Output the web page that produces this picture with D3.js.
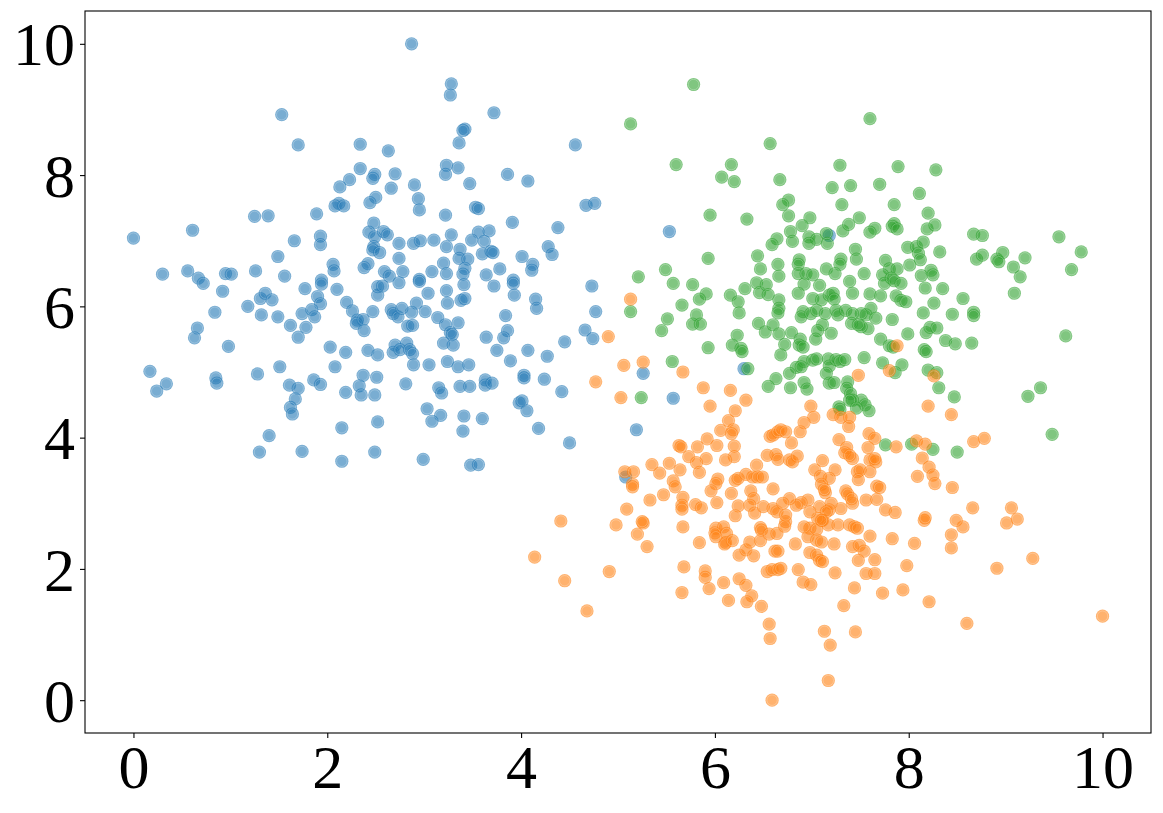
<!DOCTYPE html>
<html>
<head>
<meta charset="utf-8">
<script src="https://cdn.jsdelivr.net/npm/d3@7"></script>
<style>
  html, body { margin: 0; padding: 0; background: #fff; }
  svg { display: block; }
</style>
</head>
<body>
<svg id="chart" width="1163" height="813"></svg>
<script>
const xTicks = [0, 2, 4, 6, 8, 10];
const yTicks = [0, 2, 4, 6, 8, 10];
const seriesNames = ["cluster 0", "cluster 1", "cluster 2"];
const seriesColors = ["#1f77b4", "#2ca02c", "#ff7f0e"];

const clusterBlue = [
[1.53,8.92],[1.70,8.46],[2.34,8.47],[2.34,8.10],[2.49,8.01],[2.47,7.95],[2.23,7.93],[2.13,7.82],[2.50,7.66],[2.44,7.58],
[2.12,7.57],[2.08,7.53],[2.17,7.53],[1.89,7.41],[1.25,7.37],[1.39,7.38],[0.61,7.16],[0.00,7.04],[1.93,7.07],[1.93,6.94],
[1.66,7.00],[1.49,6.76],[2.48,7.27],[2.43,7.13],[2.49,7.06],[2.48,6.91],[2.47,6.86],[2.06,6.64],[2.07,6.54],[2.42,6.65],
[2.38,6.59],[0.30,6.49],[0.56,6.54],[0.95,6.50],[1.01,6.49],[1.26,6.54],[1.56,6.46],[0.67,6.43],[0.72,6.35],[1.94,6.40],
[0.92,6.23],[0.84,5.91],[0.66,5.67],[0.63,5.52],[0.98,5.39],[0.17,5.01],[0.34,4.82],[0.24,4.71],[0.85,4.91],[0.86,4.83],
[1.18,6.00],[1.32,5.87],[1.31,6.12],[1.36,6.20],[1.43,6.10],[1.49,5.84],[1.62,5.71],[1.78,5.68],[1.70,5.53],[1.74,5.89],
[1.77,6.27],[1.94,6.34],[1.90,6.15],[1.93,6.04],[1.84,5.95],[1.87,5.84],[2.10,6.26],[2.20,6.06],[2.26,5.93],[2.31,5.79],
[2.30,5.74],[2.37,5.80],[2.47,5.92],[2.38,5.63],[2.52,6.17],[2.52,6.30],[2.03,5.38],[2.19,5.30],[2.42,5.33],[2.52,5.26],
[1.51,5.08],[1.28,4.97],[2.08,5.08],[1.61,4.80],[1.70,4.75],[1.67,4.59],[1.62,4.46],[1.64,4.36],[1.86,4.88],[1.93,4.81],
[2.37,4.95],[2.51,4.92],[2.33,4.79],[2.35,4.65],[2.19,4.69],[2.49,4.65],[2.15,4.15],[1.40,4.03],[1.30,3.78],[1.74,3.79],
[2.15,3.64],[2.49,3.78],[2.52,4.24],[3.28,9.39],[3.27,9.22],[3.72,8.95],[3.42,8.70],[3.40,8.68],[3.36,8.49],[4.56,8.46],
[2.63,8.37],[3.23,8.15],[3.22,8.01],[3.35,8.11],[2.70,8.02],[3.86,8.01],[4.07,7.91],[3.47,7.87],[2.90,7.85],[2.66,7.80],
[2.94,7.64],[2.95,7.47],[3.53,7.51],[3.56,7.49],[3.22,7.39],[3.91,7.28],[4.67,7.54],[4.76,7.57],[4.38,7.20],[2.58,7.14],
[2.62,7.09],[2.54,6.82],[2.74,6.96],[2.89,6.96],[2.96,7.00],[3.10,7.01],[3.28,7.09],[3.23,6.91],[3.37,6.87],[3.36,6.73],
[3.45,6.72],[3.20,6.66],[3.23,6.50],[3.42,6.58],[3.40,6.49],[3.56,7.13],[3.67,7.15],[3.49,7.01],[3.62,6.99],[3.60,6.80],
[3.69,6.84],[3.71,6.82],[3.78,6.57],[3.64,6.48],[4.01,6.76],[4.12,6.64],[4.28,6.91],[4.32,6.79],[2.74,6.73],[2.78,6.53],
[2.59,6.53],[3.08,6.53],[2.95,6.41],[3.92,6.40],[2.64,6.46],[2.57,6.31],[2.74,6.36],[2.95,6.38],[3.41,6.33],[3.23,6.24],
[3.04,6.20],[3.72,6.31],[3.92,6.35],[3.93,6.17],[4.11,6.55],[4.15,6.11],[4.16,5.97],[4.73,6.31],[4.77,5.92],[4.66,5.64],
[4.74,5.51],[4.45,5.46],[3.84,5.86],[3.86,5.63],[3.82,5.52],[3.64,5.53],[3.38,6.09],[3.42,6.12],[3.24,6.05],[2.92,6.05],
[2.87,5.91],[3.01,5.92],[2.66,5.95],[2.68,5.89],[2.73,5.84],[2.77,5.97],[3.14,5.83],[3.22,5.72],[3.35,5.75],[2.83,5.70],
[2.88,5.71],[3.27,5.60],[3.29,5.57],[3.20,5.44],[3.30,5.41],[2.70,5.41],[2.82,5.44],[2.68,5.30],[2.75,5.34],[2.85,5.34],
[2.88,5.28],[2.89,5.11],[3.05,5.11],[3.24,5.16],[3.35,5.08],[3.46,5.11],[3.75,5.33],[3.89,5.17],[4.07,5.33],[4.27,5.24],
[4.03,4.95],[4.03,4.91],[4.24,4.89],[4.42,4.70],[3.63,4.88],[3.63,4.80],[3.70,4.83],[3.37,4.78],[3.47,4.78],[3.15,4.76],
[3.18,4.68],[2.81,4.82],[3.98,4.53],[4.01,4.56],[4.06,4.41],[3.03,4.44],[3.17,4.34],[3.08,4.25],[3.41,4.33],[3.60,4.29],
[3.40,4.10],[4.18,4.14],[4.50,3.92],[2.99,3.67],[3.48,3.58],[3.56,3.59],[5.26,4.98],[5.57,4.60],[5.19,4.12],[5.08,3.40],
[6.30,5.05],[5.53,7.14],[7.18,7.08],[2.87,10.00]
];

const clusterGreen = [
[5.78,9.38],[5.13,8.78],[6.57,8.48],[5.60,8.16],[6.17,8.16],[6.07,7.97],[6.20,7.90],[6.67,7.93],[7.29,8.15],[7.21,7.81],
[7.40,7.84],[7.31,7.55],[7.49,7.35],[6.76,7.62],[6.70,7.55],[6.76,7.38],[6.98,7.35],[6.90,7.23],[6.78,7.14],[6.80,6.99],
[6.97,7.06],[7.05,7.02],[6.97,6.96],[7.15,7.11],[7.16,6.96],[7.32,7.15],[7.38,7.25],[7.45,6.87],[7.46,6.72],[5.95,7.39],
[6.33,7.33],[6.64,7.03],[6.59,6.94],[6.44,6.77],[5.93,6.73],[5.49,6.56],[6.47,6.57],[6.65,6.64],[6.87,6.71],[6.86,6.64],
[7.15,6.57],[7.30,6.72],[7.29,6.64],[7.60,8.86],[7.89,8.13],[8.28,8.08],[7.70,7.86],[8.11,7.72],[7.85,7.55],[8.20,7.42],
[7.85,7.26],[7.83,7.22],[7.88,7.18],[7.65,7.19],[7.60,7.13],[8.19,7.18],[8.27,7.24],[7.99,6.90],[8.08,6.91],[8.15,6.98],
[8.10,6.81],[8.12,6.71],[8.32,6.83],[7.76,6.70],[8.67,7.10],[8.76,7.08],[9.55,7.06],[9.78,6.83],[8.70,6.72],[8.76,6.78],
[8.91,6.72],[8.97,6.82],[8.93,6.68],[9.08,6.60],[9.20,6.74],[9.68,6.56],[7.80,6.57],[7.88,6.57],[8.01,6.63],[8.23,6.55],
[7.54,6.50],[7.73,6.48],[7.75,6.35],[7.82,6.43],[7.85,6.39],[7.92,6.35],[8.13,6.47],[8.25,6.48],[8.17,6.28],[8.35,6.27],
[8.56,6.12],[9.15,6.45],[9.09,6.20],[7.60,6.19],[7.71,6.16],[7.87,6.16],[7.92,6.09],[7.97,6.07],[8.26,6.05],[8.45,5.88],
[8.67,5.91],[8.67,5.86],[7.61,5.97],[7.56,5.87],[7.51,5.89],[7.66,5.82],[7.58,5.66],[7.51,5.69],[7.83,5.80],[8.15,5.90],
[7.99,5.58],[8.18,5.60],[8.22,5.68],[8.29,5.67],[8.38,5.48],[8.48,5.43],[8.65,5.44],[9.62,5.55],[7.71,5.50],[7.80,5.40],
[7.84,5.38],[8.16,5.34],[8.18,5.31],[7.54,5.22],[7.73,5.14],[7.93,5.11],[7.86,4.99],[8.20,5.03],[8.29,4.99],[8.31,4.76],
[8.47,4.62],[7.51,4.57],[7.55,4.50],[7.59,4.41],[9.23,4.63],[9.36,4.76],[9.48,4.05],[7.76,3.89],[8.03,3.90],[8.25,3.82],
[8.50,3.78],[5.21,6.45],[5.57,6.35],[5.77,6.33],[5.91,6.19],[5.84,6.11],[5.66,6.02],[5.13,5.92],[5.51,5.81],[5.81,5.87],
[5.77,5.73],[5.85,5.73],[5.45,5.63],[6.16,6.17],[6.24,6.07],[6.25,5.90],[6.31,6.27],[6.43,6.36],[6.46,6.21],[6.53,6.33],
[6.55,6.18],[6.66,6.46],[6.66,6.10],[6.66,5.97],[6.65,5.90],[6.86,6.50],[6.94,6.50],[7.01,6.48],[7.24,6.50],[6.92,6.34],
[7.08,6.32],[6.86,6.20],[7.01,6.12],[7.10,6.10],[7.18,6.17],[7.22,6.20],[7.23,6.11],[7.39,6.38],[7.42,6.20],[6.91,5.92],
[6.89,5.84],[6.99,5.89],[7.05,5.94],[7.14,5.89],[7.25,5.94],[7.27,5.87],[7.35,5.94],[7.42,5.89],[7.41,5.74],[7.48,5.72],
[7.11,5.72],[7.06,5.63],[7.04,5.50],[7.20,5.59],[6.45,5.74],[6.52,5.61],[6.60,5.72],[6.66,5.58],[6.79,5.60],[6.88,5.50],
[6.87,5.41],[6.91,5.38],[6.72,5.42],[6.68,5.26],[6.23,5.56],[6.18,5.41],[6.27,5.36],[6.28,5.31],[5.93,5.37],[5.56,5.16],
[5.24,4.61],[6.34,5.05],[6.84,5.07],[6.92,5.16],[6.89,5.08],[7.01,5.18],[7.05,5.20],[7.17,5.20],[7.18,5.09],[7.25,5.19],
[7.29,5.16],[7.34,5.19],[7.15,4.98],[7.18,4.83],[7.23,4.84],[6.77,4.98],[6.63,4.90],[6.55,4.78],[6.78,4.76],[6.92,4.84],
[6.95,4.74],[7.37,4.85],[7.36,4.75],[7.40,4.67],[7.42,4.57],[7.39,4.57],[7.28,4.47],[7.46,4.45],[7.29,4.43]
];

const clusterOrange = [
[4.90,5.54],[5.06,5.10],[5.26,5.15],[4.77,4.85],[5.03,4.61],[5.13,6.11],[5.67,5.00],[5.88,4.76],[6.16,4.72],[5.95,4.48],
[6.32,4.57],[6.21,4.41],[6.14,4.26],[6.06,4.11],[6.19,4.12],[6.17,4.06],[5.92,3.98],[6.02,3.88],[6.20,3.87],[6.20,3.71],
[6.11,3.66],[5.63,3.88],[5.65,3.86],[5.82,3.86],[5.73,3.71],[5.91,3.68],[5.81,3.62],[5.35,3.59],[5.53,3.61],[5.64,3.51],
[5.43,3.46],[5.84,3.47],[5.07,3.48],[5.16,3.48],[5.15,3.29],[5.15,3.25],[5.57,3.34],[5.59,3.25],[6.03,3.37],[6.01,3.30],
[6.21,3.35],[6.24,3.38],[6.32,3.44],[6.43,3.58],[6.39,3.40],[6.44,3.40],[6.49,3.40],[6.54,3.73],[6.63,3.74],[6.57,4.02],
[6.60,4.04],[6.65,4.09],[5.96,3.19],[6.17,3.15],[6.37,3.19],[6.40,3.07],[6.60,3.22],[5.47,3.13],[5.33,3.05],[5.67,3.09],
[5.66,2.97],[5.66,2.91],[5.80,2.98],[5.86,2.93],[6.02,3.01],[6.24,2.96],[6.36,2.97],[6.41,2.85],[6.50,2.95],[6.60,2.92],
[6.64,2.87],[6.21,2.81],[5.09,2.91],[4.41,2.73],[4.98,2.67],[5.26,2.70],[5.25,2.72],[5.67,2.64],[6.01,2.62],[6.09,2.64],
[6.47,2.63],[5.20,2.53],[5.30,2.34],[4.14,2.18],[4.45,1.82],[4.91,1.96],[4.68,1.36],[5.84,2.40],[5.68,2.03],[5.66,1.64],
[5.90,1.97],[5.90,1.87],[5.94,1.70],[6.00,2.55],[6.12,2.54],[6.11,2.40],[6.10,2.38],[6.18,2.43],[6.01,2.49],[6.09,1.79],
[6.14,1.52],[6.25,2.21],[6.32,2.29],[6.36,2.41],[6.40,2.20],[6.48,2.59],[6.47,2.43],[6.56,2.53],[6.64,2.54],[6.62,2.27],
[6.65,2.27],[6.25,1.85],[6.32,1.75],[6.38,1.59],[6.33,1.50],[6.48,1.43],[6.54,1.96],[6.59,1.99],[6.65,1.99],[6.56,1.16],
[6.57,0.94],[6.59,0.00],[6.73,2.72],[6.72,2.65],[6.98,2.62],[7.05,2.60],[7.11,2.74],[7.17,2.67],[7.27,2.67],[7.39,2.67],
[7.44,2.64],[7.47,2.62],[6.96,2.49],[7.05,2.44],[7.10,2.41],[6.83,2.38],[7.23,2.38],[6.98,2.25],[7.05,2.21],[7.08,2.13],
[7.11,2.11],[7.42,2.34],[7.49,2.36],[7.54,2.27],[7.48,2.13],[7.60,2.50],[7.83,2.46],[8.06,2.39],[7.65,2.14],[6.68,2.01],
[6.86,1.99],[7.24,1.94],[7.56,1.93],[7.65,1.93],[7.98,2.05],[6.91,1.80],[6.99,1.76],[7.44,1.71],[7.73,1.63],[7.94,1.68],
[7.33,1.44],[8.21,1.50],[7.13,1.05],[7.45,1.04],[7.19,0.84],[7.17,0.30],[8.60,1.17],[10.00,1.28],[8.91,2.01],[9.28,2.16],
[8.44,2.52],[8.44,2.32],[8.56,2.64],[8.16,2.74],[8.49,2.74],[9.01,2.70],[9.12,2.76],[6.99,4.48],[7.02,4.31],[6.92,4.23],
[6.88,4.09],[6.68,4.12],[6.79,3.92],[7.22,4.35],[7.30,4.31],[7.39,4.31],[7.38,4.17],[7.28,3.97],[7.36,3.85],[7.34,3.77],
[7.42,3.68],[7.39,3.73],[7.59,4.06],[7.65,3.99],[7.58,3.85],[7.87,3.86],[8.08,3.95],[8.17,3.90],[8.14,3.69],[8.21,3.55],
[8.25,3.43],[8.27,3.30],[8.09,3.41],[8.45,3.24],[8.67,3.94],[8.78,3.99],[8.66,2.93],[9.06,2.93],[8.17,2.78],[7.60,3.66],
[7.66,3.63],[7.65,3.68],[7.47,3.48],[7.50,3.51],[7.60,3.48],[7.48,3.36],[7.67,3.26],[7.70,3.24],[7.56,3.05],[7.67,3.06],
[7.76,2.90],[7.86,2.86],[7.24,3.51],[7.11,3.65],[7.03,3.51],[7.09,3.41],[7.18,3.38],[7.10,3.29],[7.14,3.16],[7.13,3.21],
[7.35,3.19],[7.37,3.14],[7.42,3.00],[7.41,3.07],[7.30,2.92],[7.20,3.00],[7.18,2.90],[7.08,2.95],[7.15,2.87],[7.06,2.77],
[7.10,2.74],[6.96,3.05],[6.89,3.01],[6.84,2.97],[6.77,3.07],[6.70,3.00],[6.73,2.82],[6.98,2.87],[6.92,2.64],[6.77,3.66],
[6.80,3.63],[6.85,3.72],[6.65,3.67],[6.73,4.09],[7.88,5.40],[7.80,5.02],[8.26,4.94],[7.48,4.95],[8.20,4.48],[8.44,4.35]
];

const seriesData = [clusterBlue, clusterGreen, clusterOrange];

const svg = d3.select("#chart");
const margin = { left: 85, right: 1151, top: 11, bottom: 733 };

const x = d3.scaleLinear().domain([-0.5, 10.5]).range([margin.left, margin.right]);
const y = d3.scaleLinear().domain([-0.5, 10.5]).range([margin.bottom, margin.top]);

const plot = svg.append("g");

seriesData.forEach((pts, i) => {
  const g = plot.append("g").attr("class", "series").attr("data-name", seriesNames[i]);
  const pt = g.selectAll("g.pt").data(pts).join("g").attr("class", "pt")
    .attr("transform", d => `translate(${x(d[0])},${y(d[1])})`);
  pt.append("circle")
    .attr("r", 6.6)
    .attr("fill", seriesColors[i])
    .attr("fill-opacity", 0.6);
  pt.append("circle")
    .attr("r", 5.2)
    .attr("fill", "none")
    .attr("stroke", "#ffffff")
    .attr("stroke-opacity", 0.3)
    .attr("stroke-width", 0.8);
});

// frame
svg.append("rect")
  .attr("x", margin.left).attr("y", margin.top)
  .attr("width", margin.right - margin.left).attr("height", margin.bottom - margin.top)
  .attr("fill", "none").attr("stroke", "#000").attr("stroke-width", 1.1);

const fontSize = 62;
const fontFamily = '"Liberation Serif", Tinos, "Times New Roman", Times, serif';
const xAxis = svg.append("g")
  .attr("transform", `translate(0,${margin.bottom})`)
  .call(d3.axisBottom(x).tickValues(xTicks).tickFormat(d3.format("d")).tickSize(5).tickPadding(5));
const yAxis = svg.append("g")
  .attr("transform", `translate(${margin.left},0)`)
  .call(d3.axisLeft(y).tickValues(yTicks).tickFormat(d3.format("d")).tickSize(5).tickPadding(5));

[xAxis, yAxis].forEach(a => {
  a.attr("font-family", fontFamily);
  a.select(".domain").remove();
  a.selectAll(".tick line").attr("stroke", "#000").attr("stroke-width", 1.1);
  a.selectAll(".tick text")
    .attr("fill", "#000")
    .style("font-family", fontFamily)
    .style("font-size", fontSize + "px");
});
yAxis.selectAll(".tick text").attr("dy", "0.34em");
xAxis.selectAll(".tick text").attr("dy", "0.72em");
</script>
</body>
</html>
